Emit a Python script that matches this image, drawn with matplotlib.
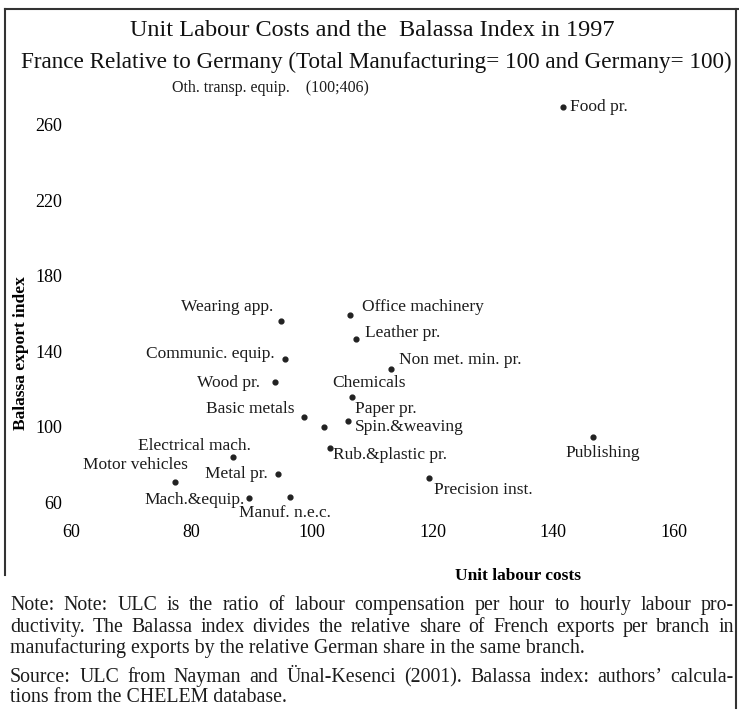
import matplotlib.pyplot as plt
from matplotlib.lines import Line2D

plt.rcParams['font.family'] = ['Liberation Serif', 'DejaVu Serif']
plt.rcParams['text.color'] = '#1c1c1c'

# branches: unit labour costs (x) and Balassa export index (y)
branches = ['Food pr.', 'Wearing app.', 'Office machinery', 'Leather pr.',
            'Communic. equip.', 'Non met. min. pr.', 'Wood pr.', 'Chemicals',
            'Paper pr.', 'Spin.&weaving', 'Basic metals', 'Electrical mach.',
            'Rub.&plastic pr.', 'Publishing', 'Motor vehicles', 'Metal pr.',
            'Precision inst.', 'Mach.&equip.', 'Manuf. n.e.c.']
ulc = [141.6, 94.8, 106.3, 107.3, 95.5, 113.1, 93.8, 106.6, 105.9, 102.0,
       98.6, 86.9, 103.0, 146.6, 77.2, 94.3, 119.4, 89.5, 96.3]
balassa = [269.5, 156.0, 159.2, 146.5, 135.9, 130.6, 123.7, 115.7, 103.0, 99.8,
           105.1, 83.9, 88.6, 94.5, 70.6, 74.9, 72.7, 62.1, 62.7]

# off-scale branch, only written at the top
oth_name = 'Oth. transp. equip.'
oth_ulc, oth_balassa = 100, 406

xticks = [60, 80, 100, 120, 140, 160]
yticks = [60, 100, 140, 180, 220, 260]

# label placement: (ha, dx, dy) in pixels from the dot
label_pos = {
    'Food pr.': ('left', 7, 0),
    'Wearing app.': ('right', -8, 14),
    'Office machinery': ('left', 12, 8),
    'Leather pr.': ('left', 9, 6),
    'Communic. equip.': ('right', -10, 5),
    'Non met. min. pr.': ('left', 8, 9),
    'Wood pr.': ('right', -15, -1),
    'Chemicals': ('left', -20, 14),
    'Paper pr.': ('left', 7, 12),
    'Spin.&weaving': ('left', 31, 0),
    'Basic metals': ('right', -9, 8),
    'Electrical mach.': ('center', -39, 11),
    'Rub.&plastic pr.': ('left', 3, -7),
    'Publishing': ('center', 10, -16),
    'Motor vehicles': ('center', -39, 17),
    'Metal pr.': ('right', -10, 0),
    'Precision inst.': ('left', 5, -12),
    'Mach.&equip.': ('right', -4, -2),
    'Manuf. n.e.c.': ('center', -5, -16),
}

W, H = 739, 710
fig = plt.figure(figsize=(W / 100, H / 100), dpi=100)
ax = fig.add_axes([71 / W, 1 - 521 / H, 633 / W, 434 / H])

ax.scatter(ulc, balassa, s=12, color='#222222', zorder=3)
for name, x, y in zip(branches, ulc, balassa):
    ha, dx, dy = label_pos[name]
    ax.annotate(name, (x, y), xytext=(dx, dy), textcoords='offset pixels',
                ha=ha, va='center', fontsize=12.5)

ax.set_xlim(60, 165)
ax.set_ylim(50, 280)
ax.set_xticks(xticks)
ax.set_yticks(yticks)
ax.tick_params(length=0, labelsize=13)
ax.tick_params(axis='x', pad=2)
ax.tick_params(axis='y', pad=6.5)
for s in ax.spines.values():
    s.set_visible(False)

ax.set_xlabel('Unit labour costs', fontsize=12.5, fontweight='bold')
ax.xaxis.set_label_coords(0.706, -0.108)
ax.set_ylabel('Balassa export index', fontsize=12.5, fontweight='bold')
ax.yaxis.set_label_coords(-0.066, 0.387)

fig.text(372 / W, 1 - 31 / H, 'Unit Labour Costs and the  Balassa Index in 1997',
         ha='center', va='center', fontsize=17.5, color='#111111')
fig.text(376 / W, 1 - 62 / H,
         'France Relative to Germany (Total Manufacturing= 100 and Germany= 100)',
         ha='center', va='center', fontsize=16.7, color='#111111')
fig.text(270 / W, 1 - 88 / H, f'{oth_name}    ({oth_ulc};{oth_balassa})',
         ha='center', va='center', fontsize=11.5)

# frame of the scanned figure
frame = dict(color='#333333', lw=1.5, transform=fig.transFigure)
fig.add_artist(Line2D([5 / W, 1], [1 - 9 / H, 1 - 9 / H], **frame))
fig.add_artist(Line2D([5 / W, 5 / W], [1 - 9 / H, 1 - 575 / H], **frame))
fig.add_artist(Line2D([736 / W, 736 / W], [1 - 9 / H, 1 - 708 / H], **frame))

# note, justified like the printed page (y = baseline in pixels)
note_lines = [
    ('Note: Note: ULC is the ratio of labour compensation per hour to hourly labour pro-', True, 610),
    ('ductivity.  The Balassa index divides the relative share of French exports per branch in', True, 632),
    ('manufacturing exports by the relative German share in the same branch.', False, 653),
    ('Source: ULC from Nayman and \u00dcnal-Kesenci (2001).  Balassa index: authors\u2019 calcula-', True, 682),
    ('tions from the CHELEM database.', False, 702),
]
left, right = 10, 734
renderer = fig.canvas.get_renderer()
for line, justify, ypix in note_lines:
    yf = 1 - ypix / H
    if not justify:
        fig.text(left / W, yf, line, ha='left', va='baseline', fontsize=14.3)
        continue
    words = line.split()
    texts = [fig.text(0, yf, w, ha='left', va='baseline', fontsize=14.3) for w in words]
    widths = [t.get_window_extent(renderer).width for t in texts]
    gap = (right - left - sum(widths)) / (len(words) - 1)
    x = left
    for t, w in zip(texts, widths):
        t.set_x(x / W)
        x += w + gap

fig.savefig('out.png', dpi=100)
